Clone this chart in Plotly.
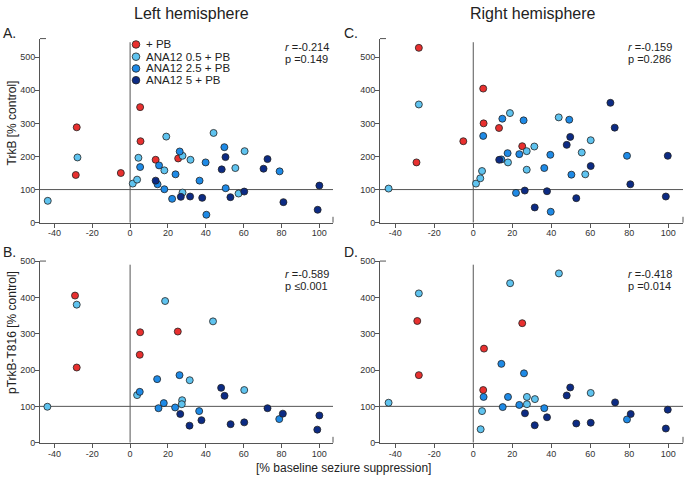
import plotly.graph_objects as go

W, H = 685, 481

# ---------------- data (x = % baseline seizure suppression, y = % control) ----------------
# Panel A: TrkB, left hemisphere
A_pb_x = [-28.2, -28.7, -4.9, 5.3, 5.5, 13.5, 25.4]
A_pb_y = [288, 144, 150, 349, 246, 190, 194]
A_a05_x = [-43.5, -27.8, 1.4, 3.7, 4.4, 19.1, 18.1, 27.7, 31.9, 27.7, 44.1, 55.6, 60.5, 57.3]
A_a05_y = [66, 197, 118, 130, 196, 260, 158, 202, 190, 91, 271, 165, 216, 88]
A_a25_x = [5.3, 15.3, 14.5, 18.1, 22.2, 24.0, 26.2, 36.7, 39.9, 40.3, 49.8, 50.5, 79.0]
A_a25_y = [168, 173, 116, 101, 72, 146, 215, 127, 182, 24, 228, 104, 155]
A_a5_x = [13.5, 26.8, 31.7, 38.1, 48.4, 50.4, 53.0, 60.3, 70.5, 72.6, 81.0, 99.1, 100.0]
A_a5_y = [127, 78, 79, 75, 161, 198, 77, 94, 163, 192, 62, 39, 112]

# Panel B: pTrkB-T816, left hemisphere
B_pb_x = [-29.1, -28.2, 5.3, 5.1, 25.2]
B_pb_y = [405, 207, 304, 242, 306]
B_a05_x = [-43.7, -28.2, 3.7, 18.5, 43.8, 31.5, 27.5, 27.3, 60.3]
B_a05_y = [99, 380, 131, 390, 334, 172, 117, 106, 145]
B_a25_x = [5.1, 14.3, 26.1, 17.8, 15.0, 23.8, 36.5, 78.8]
B_a25_y = [140, 175, 186, 109, 95, 97, 87, 65]
B_a5_x = [48.1, 49.9, 26.5, 31.4, 37.7, 72.6, 80.7, 100.0, 98.9, 53.1, 60.3]
B_a5_y = [151, 129, 79, 47, 62, 95, 80, 75, 36, 51, 56]

# Panel C: TrkB, right hemisphere
C_pb_x = [-27.9, -29.1, -5.1, 5.1, 5.3, 13.2, 25.1]
C_pb_y = [528, 182, 246, 405, 300, 286, 231]
C_a05_x = [-43.4, -27.9, 1.4, 3.6, 4.5, 18.8, 17.8, 27.4, 27.4, 31.3, 43.8, 55.6, 60.2, 57.4]
C_a05_y = [103, 357, 118, 134, 156, 331, 182, 216, 160, 230, 318, 212, 249, 146]
C_a25_x = [5.1, 14.9, 14.4, 17.6, 21.9, 23.6, 25.8, 36.4, 39.5, 39.7, 49.2, 50.3, 78.8]
C_a25_y = [262, 314, 191, 210, 90, 207, 309, 165, 205, 33, 311, 145, 202]
C_a5_x = [13.3, 26.4, 31.5, 37.8, 47.9, 49.7, 52.8, 60.2, 70.3, 72.5, 80.5, 98.7, 99.7]
C_a5_y = [190, 97, 46, 95, 235, 259, 74, 171, 362, 287, 116, 79, 202]

# Panel D: pTrkB-T816, right hemisphere
D_pb_x = [-28.7, -27.9, 5.5, 5.1, 25.1]
D_pb_y = [335, 186, 259, 145, 329]
D_a05_x = [-43.4, -27.9, 18.9, 43.9, 27.5, 31.6, 27.5, 4.5, 3.8, 60.2]
D_a05_y = [110, 411, 439, 466, 126, 120, 106, 87, 37, 137]
D_a25_x = [5.3, 14.4, 26.0, 17.8, 23.6, 15.1, 36.4, 78.8]
D_a25_y = [126, 217, 191, 126, 104, 98, 95, 64]
D_a5_x = [26.5, 37.8, 31.5, 47.9, 49.7, 72.7, 80.7, 99.7, 98.7, 52.8, 60.2]
D_a5_y = [81, 70, 48, 130, 152, 111, 79, 91, 39, 53, 55]

group_labels = ["+ PB", "ANA12 0.5 + PB", "ANA12 2.5 + PB", "ANA12 5 + PB"]
group_colors = ["#e8302f", "#5fc3ef", "#1e8ae6", "#0c2b84"]

panel_letters = ["A.", "B.", "C.", "D."]
col_titles = ["Left hemisphere", "Right hemisphere"]
y_titles = ["TrkB [% control]", "pTrkB-T816 [% control]"]
x_title = "[% baseline seziure suppression]"
r_texts = ["-0.214", "-0.589", "-0.159", "-0.418"]
p_texts = ["=0.149", "\u22640.001", "=0.286", "=0.014"]
x_tickvals = [-40, -20, 0, 20, 40, 60, 80, 100]
x_ticktext = ["-40", "-20", "0", "20", "40", "60", "80", "100"]
y_tickvals = [0, 100, 200, 300, 400, 500]

data = {
    "A": [(A_pb_x, A_pb_y), (A_a05_x, A_a05_y), (A_a25_x, A_a25_y), (A_a5_x, A_a5_y)],
    "B": [(B_pb_x, B_pb_y), (B_a05_x, B_a05_y), (B_a25_x, B_a25_y), (B_a5_x, B_a5_y)],
    "C": [(C_pb_x, C_pb_y), (C_a05_x, C_a05_y), (C_a25_x, C_a25_y), (C_a5_x, C_a5_y)],
    "D": [(D_pb_x, D_pb_y), (D_a05_x, D_a05_y), (D_a25_x, D_a25_y), (D_a5_x, D_a5_y)],
}

FONT = "Liberation Sans, Arial, sans-serif"

def px(x):
    return x / W

def py(y):
    return 1 - y / H

# layout geometry in pixels: (left, right, top, bottom), x range, y range
geom = {
    "A": dict(ax="", box=(40, 333, 34.3, 222.3), xr=[-47.6, 107.2], yr=[0, 556], vtop=545),
    "B": dict(ax="2", box=(40, 333, 261.5, 447.0), xr=[-47.6, 107.2], yr=[0, 500], vtop=490),
    "C": dict(ax="3", box=(380, 683, 34.3, 222.3), xr=[-47.8, 107.5], yr=[0, 556], vtop=545),
    "D": dict(ax="4", box=(380, 683, 261.5, 447.0), xr=[-47.8, 107.5], yr=[0, 500], vtop=490),
}

fig = go.Figure()
shapes = []
annotations = []
layout_axes = {}

AXCOL = "#555555"
TXT = "#222222"
for pi, key in enumerate(["A", "B", "C", "D"]):
    g = geom[key]
    l, r, t, b = g["box"]
    ax = g["ax"]
    xname, yname = "x" + ax, "y" + ax
    for gi, (xs, ys) in enumerate(data[key]):
        fig.add_trace(go.Scatter(
            x=xs, y=ys, mode="markers", xaxis=xname, yaxis=yname,
            name=group_labels[gi], showlegend=False,
            marker=dict(size=7, color=group_colors[gi], line=dict(color="#222222", width=0.8)),
        ))
    common = dict(showline=True, linecolor=AXCOL, linewidth=1, showgrid=False, zeroline=False,
                  ticks="outside", ticklen=4, tickcolor=AXCOL, tickwidth=1, ticklabelstandoff=-2,
                  tickfont=dict(size=9, color="#333333", family=FONT))
    layout_axes["xaxis" + ax] = dict(domain=[px(l), px(r)], range=g["xr"], anchor=yname,
                                     tickmode="array", tickvals=x_tickvals, ticktext=x_ticktext,
                                     **common)
    layout_axes["yaxis" + ax] = dict(domain=[py(b), py(t)], range=g["yr"], anchor=xname,
                                     tickmode="array", tickvals=y_tickvals, **common)
    # reference lines x=0 and y=100
    shapes.append(dict(type="line", xref=xname, yref=yname, x0=0, x1=0, y0=0, y1=g["vtop"],
                       line=dict(color=AXCOL, width=1), layer="below"))
    shapes.append(dict(type="line", xref=xname, yref=yname, x0=g["xr"][0], x1=g["xr"][1], y0=100, y1=100,
                       line=dict(color=AXCOL, width=1), layer="below"))
    # axis end stubs
    shapes.append(dict(type="line", xref="paper", yref="paper", x0=px(l), x1=px(l + 6), y0=py(t), y1=py(t),
                       line=dict(color=AXCOL, width=1)))
    shapes.append(dict(type="line", xref="paper", yref="paper", x0=px(r), x1=px(r), y0=py(b), y1=py(b - 6),
                       line=dict(color=AXCOL, width=1)))
    # panel letter
    annotations.append(dict(text=panel_letters[pi], x=px(l - 39 if l < 100 else l - 38), y=py(t - 6 if key in "AC" else t - 9),
                            xref="paper", yref="paper", xanchor="left", yanchor="middle",
                            showarrow=False, font=dict(size=14, color=TXT, family=FONT)))
    # statistics
    sx = l + 243 if l < 100 else l + 246
    sy = t + 8.7 if key in "AC" else t + 13.5
    annotations.append(dict(text="<i>r</i> =" + r_texts[pi], x=px(sx), y=py(sy), xref="paper", yref="paper",
                            xanchor="left", yanchor="middle", showarrow=False,
                            font=dict(size=11, color=TXT, family=FONT)))
    annotations.append(dict(text="p " + p_texts[pi], x=px(sx), y=py(sy + 11.7), xref="paper", yref="paper",
                            xanchor="left", yanchor="middle", showarrow=False,
                            font=dict(size=11, color=TXT, family=FONT)))

# column titles
for ci, cx in enumerate([191, 533]):
    annotations.append(dict(text=col_titles[ci], x=px(cx), y=py(9), xref="paper", yref="paper",
                            xanchor="center", yanchor="middle", showarrow=False,
                            font=dict(size=16, color=TXT, family=FONT)))
# y titles
for ri, cy in enumerate([121, 335]):
    annotations.append(dict(text=y_titles[ri], x=px(12), y=py(cy), xref="paper", yref="paper",
                            xanchor="center", yanchor="middle", textangle=-90, showarrow=False,
                            font=dict(size=12, color=TXT, family=FONT)))
# x title
annotations.append(dict(text=x_title, x=px(343), y=py(473), xref="paper", yref="paper",
                        xanchor="center", yanchor="middle", showarrow=False,
                        font=dict(size=12, color=TXT, family=FONT)))

# legend (panel A)
for gi, ly in enumerate([40.3, 52.8, 64.8, 76.8]):
    shapes.append(dict(type="circle", xref="paper", yref="paper", xsizemode="pixel", ysizemode="pixel",
                       xanchor=px(136), yanchor=py(ly), x0=-3.8, x1=3.8, y0=-3.8, y1=3.8,
                       fillcolor=group_colors[gi], line=dict(color="#222222", width=0.8)))
    annotations.append(dict(text=group_labels[gi], x=px(143.5), y=py(ly), xref="paper", yref="paper",
                            xanchor="left", yanchor="middle", showarrow=False,
                            font=dict(size=11.5, color=TXT, family=FONT)))

fig.update_layout(
    width=W, height=H, margin=dict(l=0, r=0, t=0, b=0),
    paper_bgcolor="white", plot_bgcolor="white",
    font=dict(family=FONT, color=TXT),
    shapes=shapes, annotations=annotations, showlegend=False,
    **layout_axes,
)

fig.write_html("out.html", config={"displayModeBar": False},
               post_script="document.body.style.margin='0px';document.body.style.padding='0px';")
